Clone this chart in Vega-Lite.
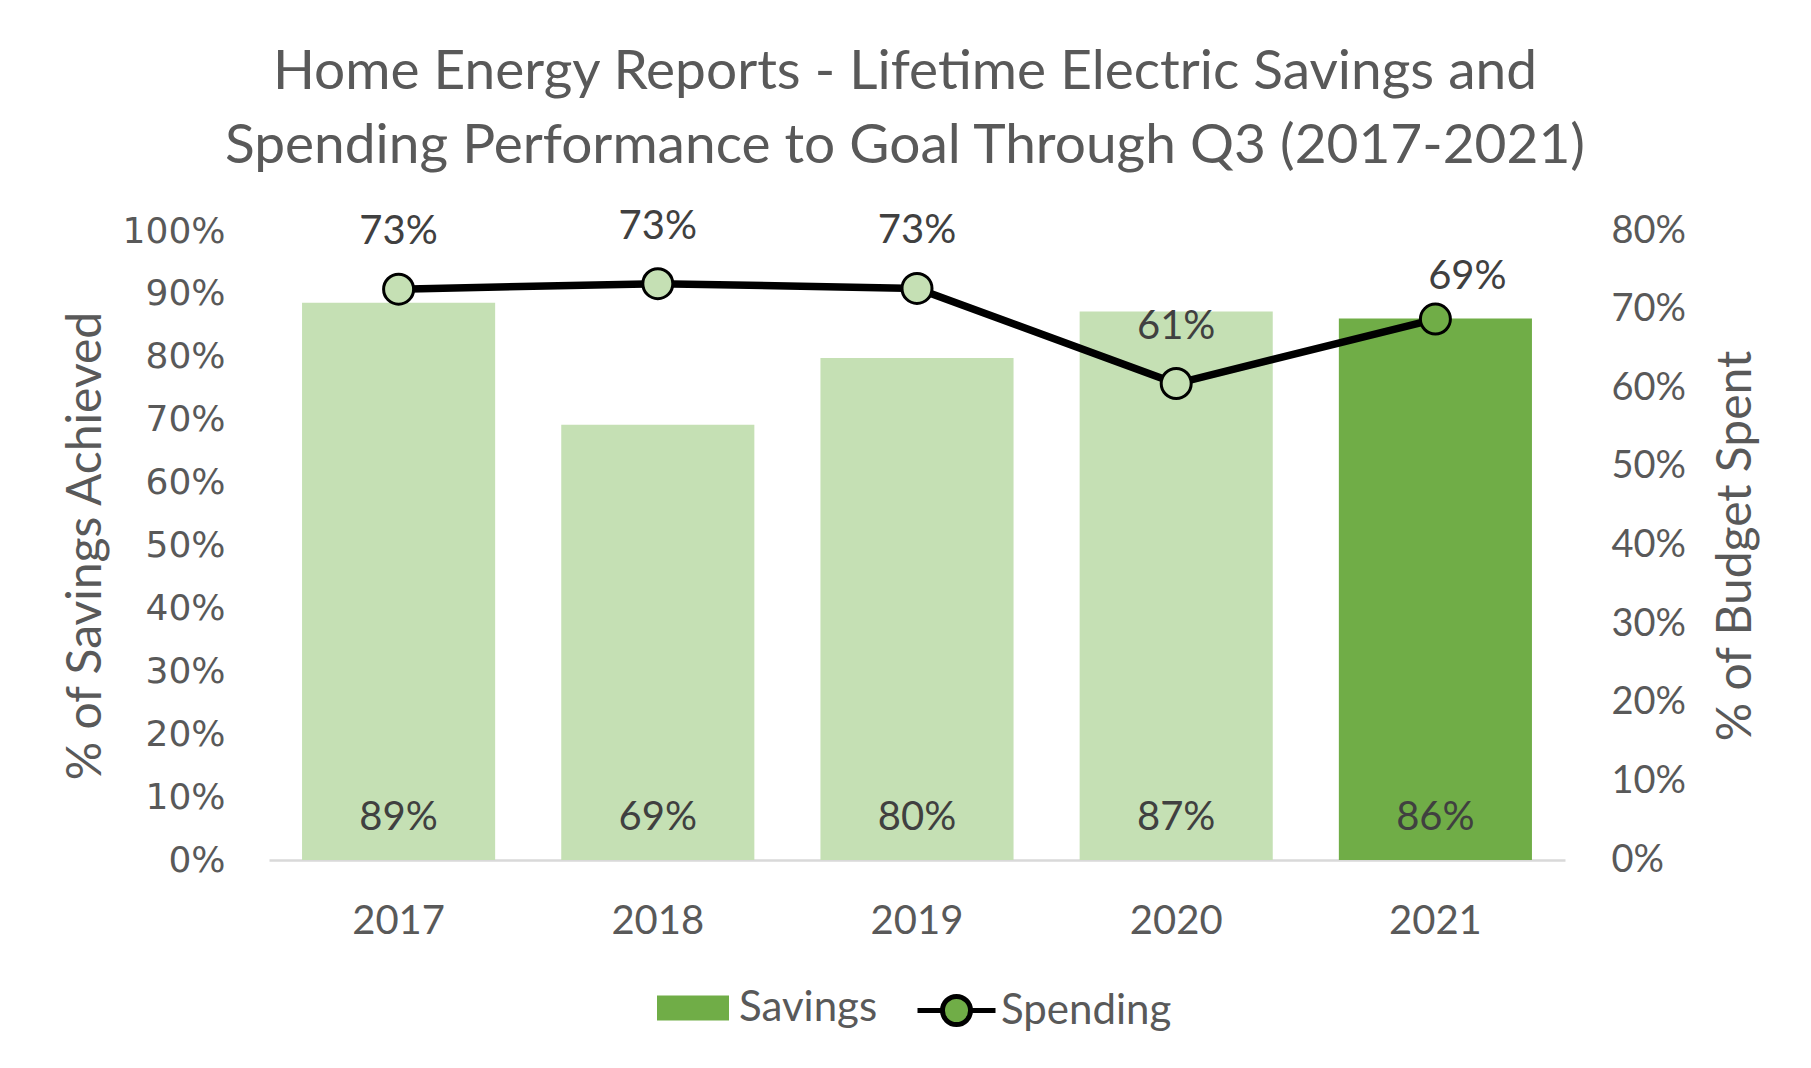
{
  "$schema": "https://vega.github.io/schema/vega-lite/v6.json",
  "autosize": {"type": "none"},
  "padding": {"left": 269, "top": 231, "right": 246, "bottom": 208},
  "width": 1296,
  "height": 629,
  "background": "white",
  "title": {
    "text": ["Home Energy Reports - Lifetime Electric Savings and", "Spending Performance to Goal Through Q3 (2017-2021)"],
    "font": "Lato",
    "fontSize": 55,
    "fontWeight": "normal",
    "color": "#595959",
    "lineHeight": 74,
    "offset": 32,
    "dx": -12,
    "anchor": "middle"
  },
  "data": {
    "values": [
      {"Year": "2017", "Savings": 0.886, "Spending": 0.726},
      {"Year": "2018", "Savings": 0.692, "Spending": 0.733},
      {"Year": "2019", "Savings": 0.798, "Spending": 0.727},
      {"Year": "2020", "Savings": 0.872, "Spending": 0.606},
      {"Year": "2021", "Savings": 0.861, "Spending": 0.688}
    ]
  },
  "encoding": {
    "x": {
      "field": "Year",
      "type": "nominal",
      "scale": {"paddingInner": 0.255, "paddingOuter": 0.1275},
      "axis": {
        "title": null,
        "labelAngle": 0,
        "labelFont": "Lato",
        "labelFontSize": 40,
        "labelColor": "#595959",
        "labelPadding": 41,
        "ticks": false,
        "domain": true,
        "domainColor": "#d9d9d9",
        "domainWidth": 2.5
      }
    }
  },
  "layer": [
    {
      "layer": [
        {
          "mark": {"type": "bar"},
          "encoding": {
            "y": {
              "field": "Savings",
              "type": "quantitative",
              "title": "% of Savings Achieved",
              "scale": {"domain": [0, 1]},
              "axis": {
                "title": "% of Savings Achieved",
                "titleFont": "Lato",
                "titleFontSize": 48,
                "titleFontWeight": "normal",
                "titleColor": "#595959",
                "titlePadding": 12,
                "format": ".0%",
                "values": [0, 0.1, 0.2, 0.3, 0.4, 0.5, 0.6, 0.7, 0.8, 0.9, 1],
                "labelFont": "DejaVu Sans",
                "labelFontSize": 36,
                "labelColor": "#595959",
                "labelPadding": 44,
                "ticks": false,
                "domain": false,
                "grid": false
              }
            },
            "color": {
              "condition": {"test": "datum.Year !== '2021'", "value": "#c5e0b4"},
              "datum": "Savings",
              "scale": {"domain": ["Savings"], "range": ["#70ad47"]},
              "legend": {
                "orient": "none",
                "legendX": 388,
                "legendY": 741,
                "title": null,
                "symbolType": "M-1,-0.35H1V0.35H-1Z",
                "symbolSize": 5184,
                "symbolStrokeWidth": 0,
                "labelFont": "Lato",
                "labelFontSize": 42,
                "labelColor": "#595959",
                "labelOffset": 10,
                "labelLimit": 400
              }
            }
          }
        },
        {
          "mark": {"type": "text", "font": "Lato", "fontSize": 40, "color": "#404040", "baseline": "middle", "dy": -42},
          "encoding": {
            "y": {"datum": 0, "type": "quantitative", "title": "% of Savings Achieved"},
            "text": {"field": "Savings", "type": "quantitative", "format": ".0%"}
          }
        }
      ]
    },
    {
      "layer": [
        {
          "mark": {"type": "line", "strokeWidth": 7.5},
          "encoding": {
            "y": {
              "field": "Spending",
              "type": "quantitative",
              "title": "% of Budget Spent",
              "scale": {"domain": [0, 0.8]},
              "axis": {
                "orient": "right",
                "title": "% of Budget Spent",
                "titleAngle": 270,
                "titleFont": "Lato",
                "titleFontSize": 48,
                "titleFontWeight": "normal",
                "titleColor": "#595959",
                "titlePadding": 75,
                "format": ".0%",
                "values": [0, 0.1, 0.2, 0.3, 0.4, 0.5, 0.6, 0.7, 0.8],
                "labelFont": "Lato",
                "labelFontSize": 38,
                "labelColor": "#595959",
                "labelPadding": 46,
                "ticks": false,
                "domain": false,
                "grid": false
              }
            },
            "stroke": {
              "datum": "Spending",
              "scale": {"domain": ["Spending"], "range": ["#000000"]},
              "legend": {
                "orient": "none",
                "legendX": 646,
                "legendY": 738,
                "title": null,
                "symbolType": "M-1,0H-0.36M0.36,0H1M-0.36,0A0.36,0.36 0 1,1 0.36,0A0.36,0.36 0 1,1 -0.36,0Z",
                "symbolSize": 6084,
                "symbolStrokeWidth": 5,
                "symbolFillColor": "#70ad47",
                "labelFont": "Lato",
                "labelFontSize": 42,
                "labelColor": "#595959",
                "labelOffset": 3,
                "labelLimit": 400
              }
            }
          }
        },
        {
          "mark": {"type": "point", "filled": true, "size": 900, "stroke": "#000000", "strokeWidth": 3, "opacity": 1},
          "encoding": {
            "y": {"field": "Spending", "type": "quantitative", "title": "% of Budget Spent"},
            "fill": {
              "condition": {"test": "datum.Year === '2021'", "value": "#70ad47"},
              "value": "#c5e0b4"
            }
          }
        },
        {
          "transform": [{"filter": "datum.Year !== '2021'"}],
          "mark": {"type": "text", "font": "Lato", "fontSize": 40, "color": "#404040", "baseline": "middle", "dy": -57},
          "encoding": {
            "y": {"field": "Spending", "type": "quantitative", "title": "% of Budget Spent"},
            "text": {"field": "Spending", "type": "quantitative", "format": ".0%"}
          }
        },
        {
          "transform": [{"filter": "datum.Year === '2021'"}],
          "mark": {"type": "text", "font": "Lato", "fontSize": 40, "color": "#404040", "baseline": "middle", "dy": -42, "dx": 32},
          "encoding": {
            "y": {"field": "Spending", "type": "quantitative", "title": "% of Budget Spent"},
            "text": {"field": "Spending", "type": "quantitative", "format": ".0%"}
          }
        }
      ]
    }
  ],
  "resolve": {"scale": {"y": "independent"}},
  "config": {
    "view": {"stroke": null}
  }
}
